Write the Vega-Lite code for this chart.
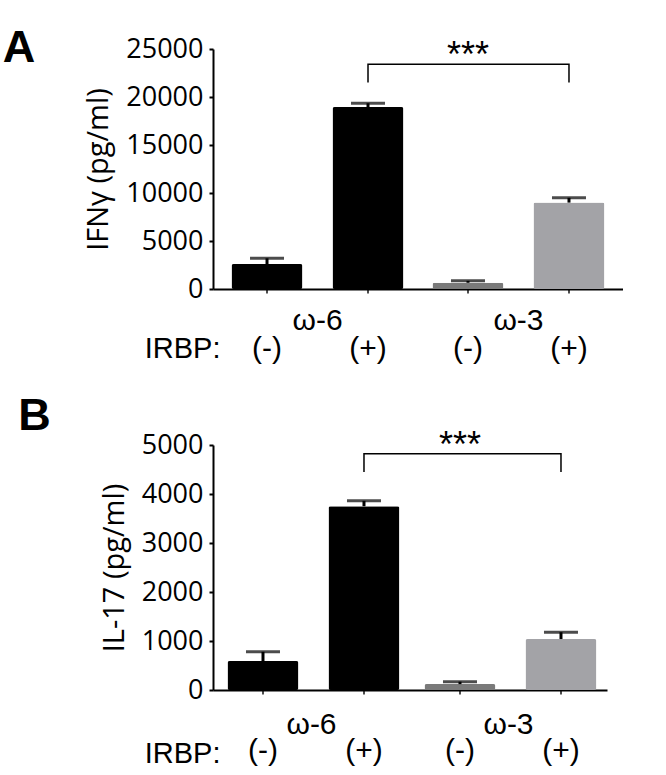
{
  "$schema": "https://vega.github.io/schema/vega-lite/v6.json",
  "background": "white",
  "padding": {"left": 2, "top": 26, "right": 0, "bottom": 0},
  "spacing": 29,
  "config": {
    "view": {"stroke": null},
    "axis": {"grid": false, "domainColor": "black", "tickColor": "black", "labelColor": "black", "titleColor": "black"},
    "title": {"color": "black"}
  },
  "vconcat": [
    {
      "width": 410,
      "height": 240,
      "title": {"text": "A", "anchor": "start", "font": "Liberation Sans", "fontSize": 45, "fontWeight": "bold", "dx": -82, "dy": 40},
      "data": {"values": [
        {"group": "ω-6", "irbp": "(-)", "cond": "ω-6 (-)", "mean": 2600, "upper": 3200},
        {"group": "ω-6", "irbp": "(+)", "cond": "ω-6 (+)", "mean": 18950, "upper": 19350},
        {"group": "ω-3", "irbp": "(-)", "cond": "ω-3 (-)", "mean": 650, "upper": 850},
        {"group": "ω-3", "irbp": "(+)", "cond": "ω-3 (+)", "mean": 9000, "upper": 9500}
      ]},
      "encoding": {
        "x": {"field": "group", "type": "nominal", "sort": ["ω-6", "ω-3"],
          "scale": {"paddingInner": 0, "paddingOuter": 0.02},
          "axis": {"title": "IRBP:", "titleFont": "Liberation Sans", "titleFontSize": 29, "titleFontWeight": "normal", "titleAlign": "right", "titleBaseline": "alphabetic", "titleAngle": 0, "titleX": 7, "titleY": 68,
            "labelAngle": 0, "labelFont": "Liberation Sans", "labelFontSize": 30, "labelPadding": 16, "ticks": false, "tickSize": 0, "domainWidth": 2}},
        "xOffset": {"field": "irbp", "type": "nominal", "sort": ["(-)", "(+)"], "scale": {"paddingInner": 0.297, "paddingOuter": 0.1435}}
      },
      "layer": [
        {
          "mark": {"type": "tick", "orient": "vertical", "size": 9, "thickness": 2, "color": "black"},
          "encoding": {"y": {"datum": 0, "type": "quantitative"}}
        },
        {
          "mark": {"type": "bar", "cornerRadius": 2},
          "encoding": {
            "y": {"field": "mean", "type": "quantitative", "scale": {"domain": [0, 25000], "nice": false},
              "axis": {"title": "IFNγ (pg/ml)", "titleFont": "Open Sans", "titleFontSize": 29, "titleFontWeight": "normal", "titlePadding": 12,
                "values": [0, 5000, 10000, 15000, 20000, 25000], "format": "d", "labelFont": "Open Sans", "labelFontSize": 27, "labelPadding": 6, "tickSize": 4, "tickWidth": 2, "domainWidth": 2}},
            "color": {"field": "cond", "type": "nominal", "legend": null,
              "scale": {"domain": ["ω-6 (-)", "ω-6 (+)", "ω-3 (-)", "ω-3 (+)"], "range": ["#000000", "#000000", "#7a7a7a", "#a3a3a7"]}}
          }
        },
        {
          "mark": {"type": "rule", "strokeWidth": 3, "color": "black"},
          "encoding": {"y": {"field": "mean", "type": "quantitative"}, "y2": {"field": "upper"}}
        },
        {
          "mark": {"type": "tick", "orient": "horizontal", "size": 34, "thickness": 3, "color": "black"},
          "encoding": {"y": {"field": "upper", "type": "quantitative"}}
        },
        {
          "mark": {"type": "text", "font": "Liberation Sans", "fontSize": 30, "baseline": "middle", "dy": 60, "color": "black"},
          "encoding": {"y": {"datum": 0, "type": "quantitative"}, "text": {"field": "irbp"}}
        },
        {
          "data": {"values": [
            {"group": "ω-6", "irbp": "(+)", "y": 21500, "o": 1},
            {"group": "ω-6", "irbp": "(+)", "y": 23400, "o": 2},
            {"group": "ω-3", "irbp": "(+)", "y": 23400, "o": 3},
            {"group": "ω-3", "irbp": "(+)", "y": 21500, "o": 4}
          ]},
          "mark": {"type": "line", "color": "black", "strokeWidth": 1.5},
          "encoding": {"y": {"field": "y", "type": "quantitative"}, "order": {"field": "o"}}
        },
        {
          "data": {"values": [{"group": "ω-3", "irbp": "(-)", "y": 23400, "sig": "***"}]},
          "mark": {"type": "text", "font": "Liberation Sans", "fontSize": 36, "baseline": "alphabetic", "dy": 3, "color": "black"},
          "encoding": {"y": {"field": "y", "type": "quantitative"}, "text": {"field": "sig"}}
        }
      ]
    },
    {
      "width": 394,
      "height": 245,
      "title": {"text": "B", "anchor": "start", "font": "Liberation Sans", "fontSize": 45, "fontWeight": "bold", "dx": -82, "dy": 15},
      "data": {"values": [
        {"group": "ω-6", "irbp": "(-)", "cond": "ω-6 (-)", "mean": 590, "upper": 780},
        {"group": "ω-6", "irbp": "(+)", "cond": "ω-6 (+)", "mean": 3750, "upper": 3860},
        {"group": "ω-3", "irbp": "(-)", "cond": "ω-3 (-)", "mean": 120, "upper": 170},
        {"group": "ω-3", "irbp": "(+)", "cond": "ω-3 (+)", "mean": 1040, "upper": 1180}
      ]},
      "encoding": {
        "x": {"field": "group", "type": "nominal", "sort": ["ω-6", "ω-3"],
          "scale": {"paddingInner": 0, "paddingOuter": 0},
          "axis": {"title": "IRBP:", "titleFont": "Liberation Sans", "titleFontSize": 29, "titleFontWeight": "normal", "titleAlign": "right", "titleBaseline": "alphabetic", "titleAngle": 0, "titleX": 7, "titleY": 72,
            "labelAngle": 0, "labelFont": "Liberation Sans", "labelFontSize": 30, "labelPadding": 19, "ticks": false, "tickSize": 0, "domainWidth": 2}},
        "xOffset": {"field": "irbp", "type": "nominal", "sort": ["(-)", "(+)"], "scale": {"paddingInner": 0.3, "paddingOuter": 0.15}}
      },
      "layer": [
        {
          "mark": {"type": "tick", "orient": "vertical", "size": 9, "thickness": 2, "color": "black"},
          "encoding": {"y": {"datum": 0, "type": "quantitative"}}
        },
        {
          "mark": {"type": "bar", "cornerRadius": 2},
          "encoding": {
            "y": {"field": "mean", "type": "quantitative", "scale": {"domain": [0, 5000], "nice": false},
              "axis": {"title": "IL-17 (pg/ml)", "titleFont": "Open Sans", "titleFontSize": 29, "titleFontWeight": "normal", "titlePadding": 12,
                "values": [0, 1000, 2000, 3000, 4000, 5000], "format": "d", "labelFont": "Open Sans", "labelFontSize": 27, "labelPadding": 6, "tickSize": 4, "tickWidth": 2, "domainWidth": 2}},
            "color": {"field": "cond", "type": "nominal", "legend": null,
              "scale": {"domain": ["ω-6 (-)", "ω-6 (+)", "ω-3 (-)", "ω-3 (+)"], "range": ["#000000", "#000000", "#7a7a7a", "#a3a3a7"]}}
          }
        },
        {
          "mark": {"type": "rule", "strokeWidth": 3, "color": "black"},
          "encoding": {"y": {"field": "mean", "type": "quantitative"}, "y2": {"field": "upper"}}
        },
        {
          "mark": {"type": "tick", "orient": "horizontal", "size": 34, "thickness": 3, "color": "black"},
          "encoding": {"y": {"field": "upper", "type": "quantitative"}}
        },
        {
          "mark": {"type": "text", "font": "Liberation Sans", "fontSize": 30, "baseline": "middle", "dy": 61, "color": "black"},
          "encoding": {"y": {"datum": 0, "type": "quantitative"}, "text": {"field": "irbp"}}
        },
        {
          "data": {"values": [
            {"group": "ω-6", "irbp": "(+)", "y": 4450, "o": 1},
            {"group": "ω-6", "irbp": "(+)", "y": 4820, "o": 2},
            {"group": "ω-3", "irbp": "(+)", "y": 4820, "o": 3},
            {"group": "ω-3", "irbp": "(+)", "y": 4450, "o": 4}
          ]},
          "mark": {"type": "line", "color": "black", "strokeWidth": 1.5},
          "encoding": {"y": {"field": "y", "type": "quantitative"}, "order": {"field": "o"}}
        },
        {
          "data": {"values": [{"group": "ω-3", "irbp": "(-)", "y": 4820, "sig": "***"}]},
          "mark": {"type": "text", "font": "Liberation Sans", "fontSize": 36, "baseline": "alphabetic", "dy": 3, "color": "black"},
          "encoding": {"y": {"field": "y", "type": "quantitative"}, "text": {"field": "sig"}}
        }
      ]
    }
  ]
}
